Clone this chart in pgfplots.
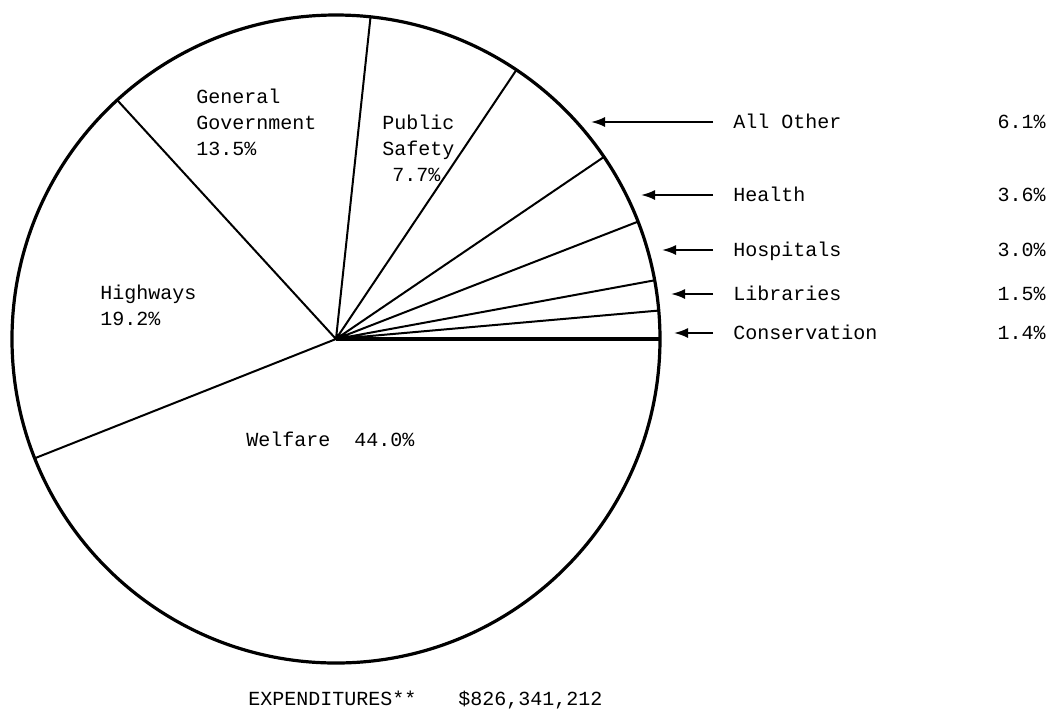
\documentclass[border=0pt]{standalone}
\usepackage{pgfplots}
\pgfplotsset{compat=1.18}
\usepgfplotslibrary{polar}
\usetikzlibrary{arrows.meta}
\usepackage{fontspec}
\setmonofont{Liberation Mono}
\begin{document}
\begin{tikzpicture}[x=0.5pt,y=-0.5pt,font=\ttfamily\fontsize{10}{13}\selectfont,
    lbl/.style={inner sep=0pt, anchor=base west}]
  % page frame, 1 unit = 1 pixel of the reference
  \path (0,0) rectangle (1060,708);
  \begin{polaraxis}[
      at={(168pt,-169.5pt)}, anchor=origin,
      scale only axis, width=324pt, height=324pt,
      xmin=0, xmax=360, ymin=0, ymax=1,
      xtick=\empty, ytick=\empty,
      axis line style={line width=1.6pt},
      clip=false,
    ]
    % slice boundaries (cumulative angle in degrees, 1% = 3.6 deg)
    % Conservation 1.4, Libraries 1.5, Hospitals 3.0, Health 3.6, All Other 6.1,
    % Public Safety 7.7, General Government 13.5, Highways 19.2, Welfare 44.0
    \addplot[black, line width=1pt, line join=round] coordinates {
      (0,1) (0,0)
      (5.04,1) (0,0)
      (10.44,1) (0,0)
      (21.24,1) (0,0)
      (34.2,1) (0,0)
      (56.16,1) (0,0)
      (83.88,1) (0,0)
      (132.48,1) (0,0)
      (201.6,1)
    };
  \end{polaraxis}

  % labels inside the pie
  \node[lbl] at (196,103) {General};
  \node[lbl] at (196,129) {Government};
  \node[lbl] at (196,155) {13.5\%};
  \node[lbl] at (382,129) {Public};
  \node[lbl] at (382,155) {Safety};
  \node[lbl] at (392,181) {7.7\%};
  \node[lbl] at (100,299) {Highways};
  \node[lbl] at (100,325) {19.2\%};
  \node[lbl] at (246,446) {Welfare\ \ 44.0\%};

  % small slices, labelled outside
  \foreach \y/\tip/\name/\pct in {
      122/591/All Other/6.1,
      195/641/Health/3.6,
      250/662/Hospitals/3.0,
      294/671/Libraries/1.5,
      333/674/Conservation/1.4} {
    \draw[line width=1pt, -{Latex[length=7pt,width=5pt]}] (713,\y) -- (\tip,\y);
    \node[lbl] at (733,\y+6) {\name};
    \node[inner sep=0pt, anchor=base east] at (1046,\y+6) {\pct\%};
  }

  \node[lbl] at (248,705) {EXPENDITURES**};
  \node[lbl] at (458,705) {\$826,341,212};
\end{tikzpicture}
\end{document}
